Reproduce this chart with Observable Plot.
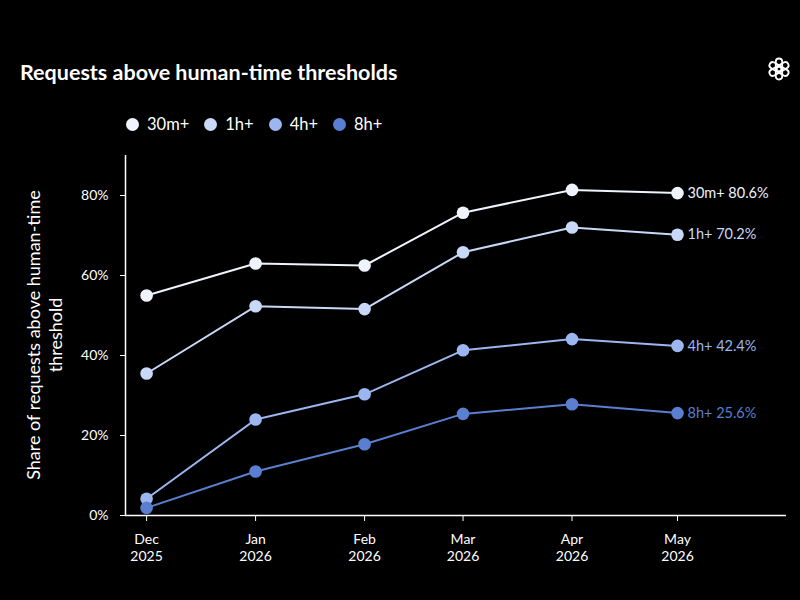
<!DOCTYPE html>
<html>
<head>
<meta charset="utf-8">
<script src="https://cdn.jsdelivr.net/npm/d3@7"></script>
<script src="https://cdn.jsdelivr.net/npm/@observablehq/plot@0.6"></script>
<style>
  html, body { margin: 0; padding: 0; background: #000; width: 800px; height: 600px; overflow: hidden; }
  body { position: relative; font-family: Lato, "Noto Sans", sans-serif; color: #fff; }
  #title { position: absolute; left: 20px; top: 59px; font-size: 21.5px; font-weight: 700; }
  #legend { position: absolute; left: 126px; top: 114px; font-size: 16.5px; display: flex; gap: 15px; }
  #legend span { display: inline-flex; align-items: center; }
  #legend i { display: inline-block; width: 13px; height: 13px; border-radius: 50%; margin-right: 8px; }
  #logo { position: absolute; left: 766px; top: 56px; }
  #chart { position: absolute; left: 0; top: 145px; }
  #ylabel { position: absolute; left: 44px; top: 335px; width: 400px; margin-left: -200px; margin-top: -22px;
            transform: rotate(-90deg); text-align: center; font-size: 18px; line-height: 22px; white-space: pre; }
</style>
</head>
<body>
<div id="title">Requests above human-time thresholds</div>
<div id="legend"></div>
<svg id="logo" width="26" height="26" viewBox="-13 -13 26 26">
  <g fill="none" stroke="#fff" stroke-width="1.8">
    <rect x="-3.2" y="-10.5" width="6.4" height="13" rx="3.2" transform="rotate(0)"/>
    <rect x="-3.2" y="-10.5" width="6.4" height="13" rx="3.2" transform="rotate(60)"/>
    <rect x="-3.2" y="-10.5" width="6.4" height="13" rx="3.2" transform="rotate(120)"/>
    <rect x="-3.2" y="-10.5" width="6.4" height="13" rx="3.2" transform="rotate(180)"/>
    <rect x="-3.2" y="-10.5" width="6.4" height="13" rx="3.2" transform="rotate(240)"/>
    <rect x="-3.2" y="-10.5" width="6.4" height="13" rx="3.2" transform="rotate(300)"/>
  </g>
</svg>
<div id="chart"></div>
<div id="ylabel">Share of requests above human-time
threshold</div>
<script>
const months = ["2025-12-01", "2026-01-01", "2026-02-01", "2026-03-01", "2026-04-01", "2026-05-01"];
const series = ["30m+", "1h+", "4h+", "8h+"];
const colors = ["#eef3fc", "#c8d8f6", "#9cb6ef", "#5a7fd1"];
const s30m = [55.0, 63.0, 62.5, 75.7, 81.4, 80.6];
const s1h = [35.5, 52.3, 51.6, 65.8, 72.0, 70.2];
const s4h = [4.2, 24.0, 30.3, 41.3, 44.1, 42.4];
const s8h = [1.9, 11.0, 17.8, 25.4, 27.8, 25.6];
const yTicks = [0, 20, 40, 60, 80];

const values = [s30m, s1h, s4h, s8h];
const data = [];
series.forEach((s, i) => months.forEach((m, j) => data.push({series: s, date: new Date(m + "T00:00:00Z"), value: values[i][j]})));
const last = data.filter(d => +d.date === +new Date(months[months.length - 1] + "T00:00:00Z"));

const leg = document.getElementById("legend");
series.forEach((s, i) => {
  const sp = document.createElement("span");
  sp.innerHTML = `<i style="background:${colors[i]}"></i>${s}`;
  leg.appendChild(sp);
});

const fmt = d3.utcFormat("%b");
const chart = Plot.plot({
  width: 800,
  height: 440,
  marginTop: 10,
  marginBottom: 70,
  marginLeft: 125,
  marginRight: 14,
  style: {background: "#000", color: "#fff", fontFamily: "Lato, 'Noto Sans', sans-serif", fontSize: "14px"},
  x: {type: "utc", domain: [new Date("2025-11-25T00:00:00Z"), new Date("2026-06-01T00:00:00Z")]},
  y: {domain: [0, 90]},
  color: {domain: series, range: colors},
  marks: [
    Plot.axisX(months.map(m => new Date(m + "T00:00:00Z")), {
      tickSize: 6, tickPadding: 10, fontSize: 14, stroke: "#fff", color: "#fff", lineHeight: 1.25,
      tickFormat: d => fmt(d) + "\n" + d.getUTCFullYear(), label: null
    }),
    Plot.axisY(yTicks, {
      tickSize: 5, tickPadding: 12, fontSize: 14, stroke: "#fff", color: "#fff",
      tickFormat: d => d + "%", label: null
    }),
    Plot.ruleY([0], {stroke: "#fff", strokeWidth: 1.5}),
    Plot.ruleX([new Date("2025-11-25T00:00:00Z")], {stroke: "#fff", strokeWidth: 1.5}),
    Plot.line(data, {x: "date", y: "value", z: "series", stroke: "series", strokeWidth: 2}),
    Plot.dot(data, {x: "date", y: "value", fill: "series", r: 6.3}),
    Plot.text(last, {x: "date", y: "value", fill: "series", text: d => `${d.series} ${d.value.toFixed(1)}%`, textAnchor: "start", dx: 10, fontSize: 14.5})
  ]
});
document.getElementById("chart").appendChild(chart);
</script>
</body>
</html>
